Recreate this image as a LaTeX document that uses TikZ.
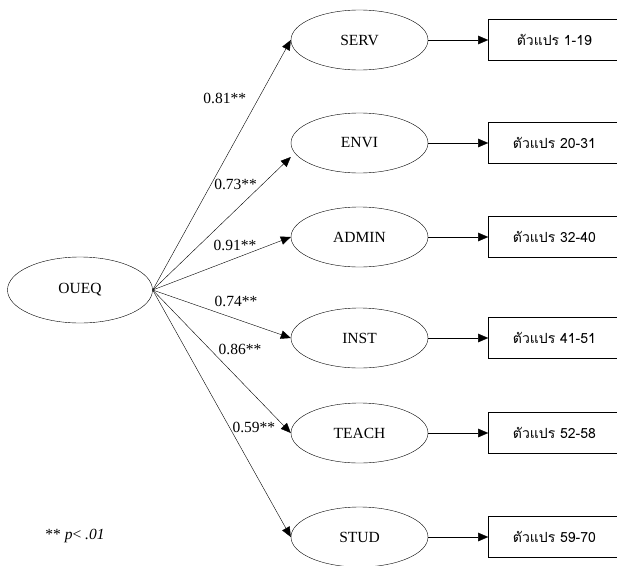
\documentclass[tikz,border=0pt]{standalone}
\usepackage{fontspec}
\setmainfont{Liberation Serif}
\newfontfamily\thaifont[Script=Thai]{Loma}
\usetikzlibrary{shapes.geometric, positioning, arrows.meta}
\tikzset{->,  % every path is an arrow
	>={Triangle[length=10pt,width=8.5pt]}, % filled heads
	line width=1.1pt,
	font=\fontsize{15.5}{18}\selectfont,
	latent/.style={ellipse, draw, minimum width=137pt, minimum height=60pt, inner sep=0pt}, % the six factors
	observed/.style={rectangle, draw, minimum width=132pt, minimum height=41pt, font=\thaifont\fontsize{14}{17}\selectfont}, % the item groups
	node distance=60pt,
}

\begin{document}
\begin{tikzpicture}[x=1pt, y=-1pt]
	\useasboundingbox (0,0) rectangle (617,565);
	% the second order factor
	\node[latent, minimum width=145pt, minimum height=66pt] (OUEQ) at (80,290) {OUEQ};
	% first order factors
	\node[latent] (SERV) at (359.5,40) {SERV};
	\node[latent] (ENVI) at (359.5,143) {ENVI};
	\node[latent] (ADMIN) at (359.5,237) {ADMIN};
	\node[latent] (INST) at (359.5,338) {INST};
	\node[latent] (TEACH) at (359.5,433) {TEACH};
	\node[latent] (STUD) at (359.5,537) {STUD};
	% the items of each factor
	\node[observed, right=of SERV] (ItemsServ) {ตัวแปร 1-19};
	\node[observed, right=of ENVI] (ItemsEnvi) {ตัวแปร 20-31};
	\node[observed, right=of ADMIN] (ItemsAdmin) {ตัวแปร 32-40};
	\node[observed, right=of INST] (ItemsInst) {ตัวแปร 41-51};
	\node[observed, right=of TEACH] (ItemsTeach) {ตัวแปร 52-58};
	\node[observed, right=of STUD] (ItemsStud) {ตัวแปร 59-70};
	%% loadings
	\draw (OUEQ.east) -- node[pos=.71, xshift=-26pt, yshift=14.5pt]{0.81**} (SERV.west);
	\draw (OUEQ.east) -- node[pos=.695, xshift=-13pt, yshift=13.6pt]{0.73**} ([yshift=-14pt]ENVI.west);
	\draw (OUEQ.east) -- node[pos=.625, xshift=-4pt, yshift=11pt]{0.91**} (ADMIN.west);
	\draw (OUEQ.east) -- node[pos=.563, xshift=5.5pt, yshift=16pt]{0.74**} (INST.west);
	\draw (OUEQ.east) -- node[pos=.519, xshift=15.6pt, yshift=15.2pt]{0.86**} (TEACH.west);
	\draw (OUEQ.east) -- node[pos=.597, xshift=18.7pt, yshift=10.5pt]{0.59**} (STUD.west);
	%% factor to items
	\draw (SERV) -- (ItemsServ);
	\draw (ENVI) -- (ItemsEnvi);
	\draw (ADMIN) -- (ItemsAdmin);
	\draw (INST) -- (ItemsInst);
	\draw (TEACH) -- (ItemsTeach);
	\draw (STUD) -- (ItemsStud);
	% significance
	\node (Note) at (75,536) {** \textit{p}< \textit{.01}};
\end{tikzpicture}
\end{document}
